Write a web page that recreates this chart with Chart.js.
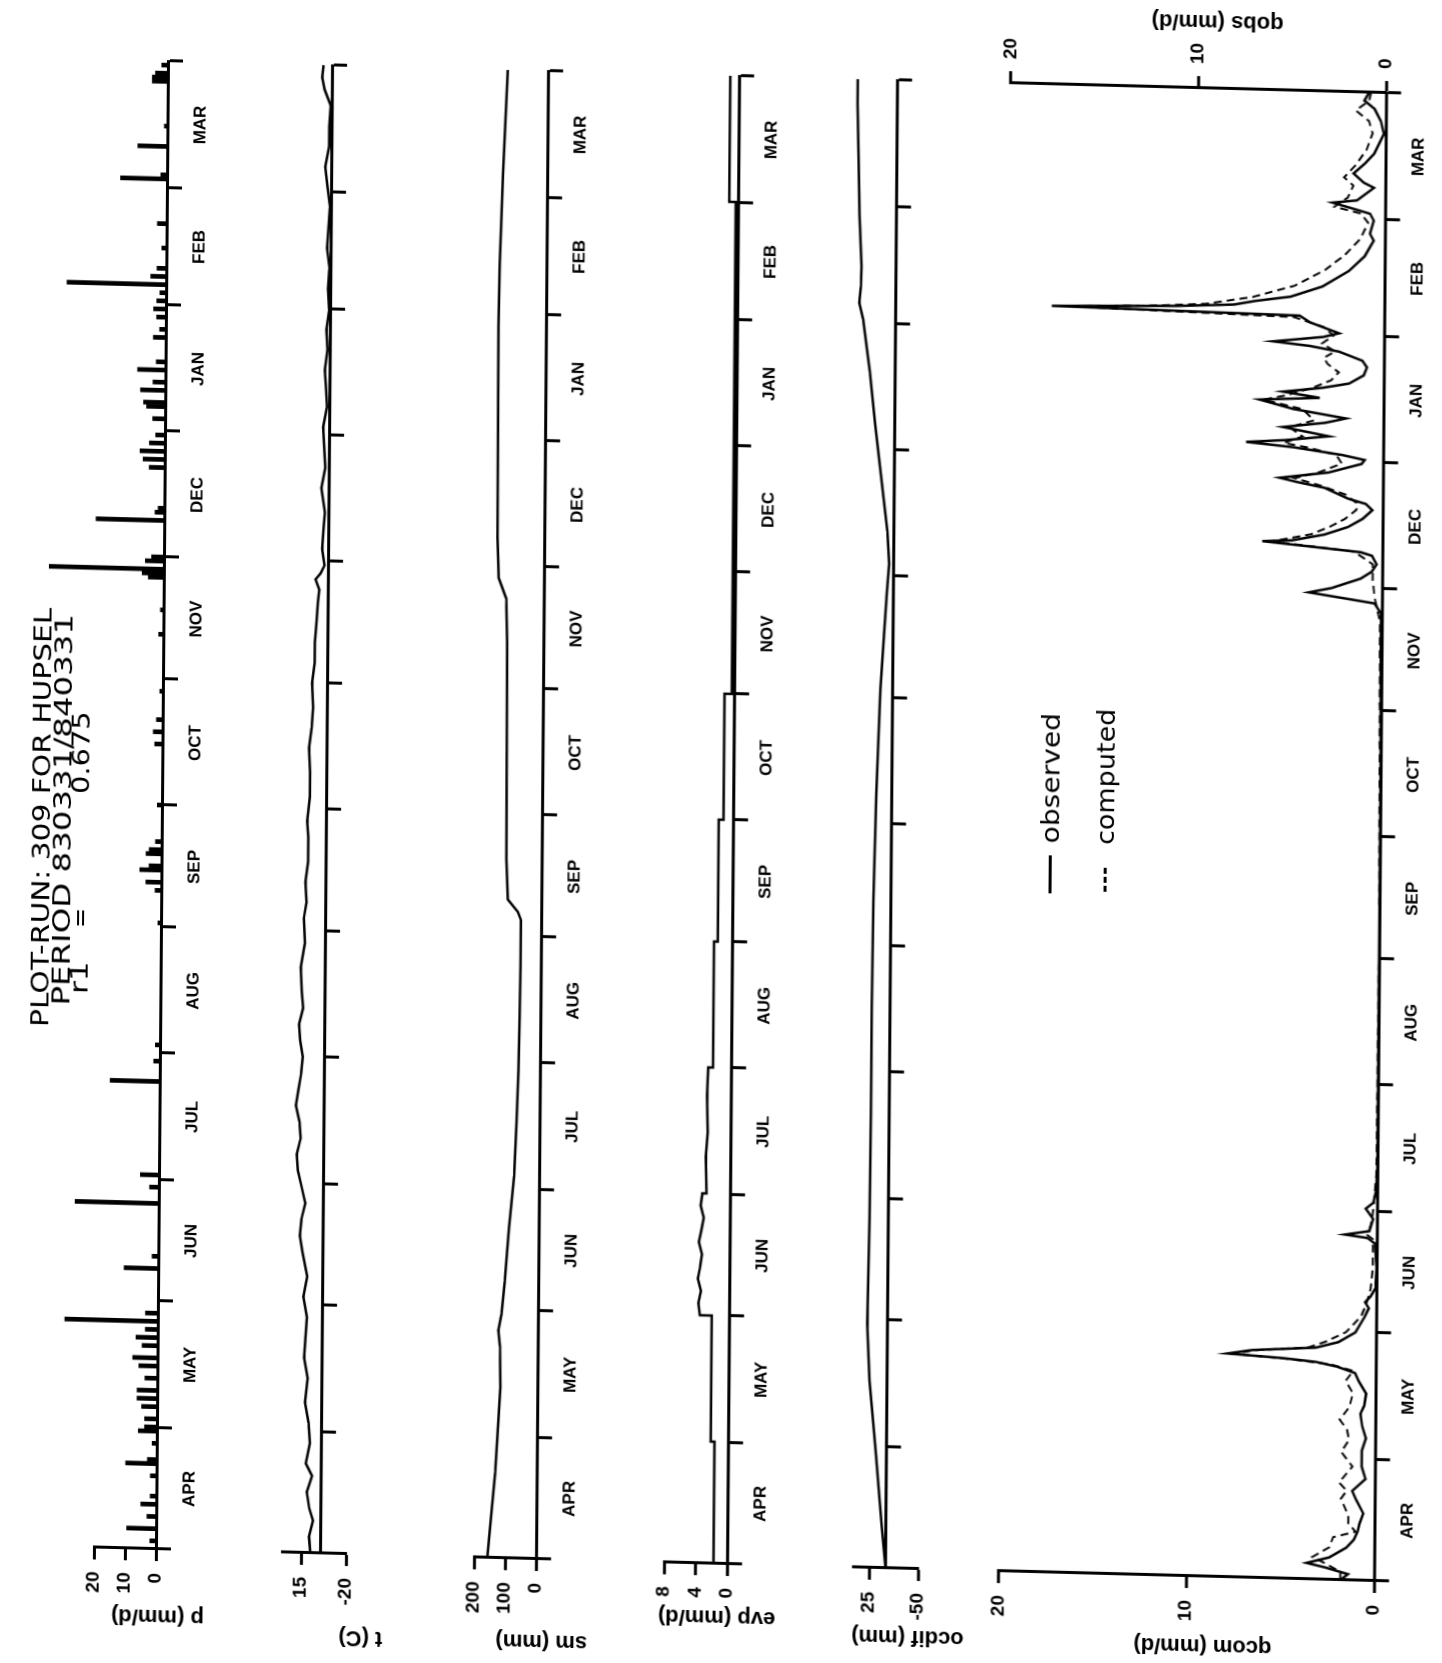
<!DOCTYPE html>
<html><head><meta charset="utf-8"><title>PLOT-RUN 309 FOR HUPSEL</title>
<script src="https://cdn.jsdelivr.net/npm/chart.js"></script>
<style>
html,body{margin:0;padding:0;background:#fff;}
body{width:1442px;height:1663px;overflow:hidden;position:relative;}
#land{position:absolute;left:0;top:0;width:1700px;height:1450px;transform-origin:0 0;transform:matrix(0.0081,-1,1,0.0262,-0.92,1659);}
.panel{position:absolute;left:0;}
.panel canvas{display:block;}
.txt{position:absolute;white-space:nowrap;color:#000;transform-origin:0 50%;}
.ytitle{position:absolute;white-space:nowrap;color:#000;line-height:1;font:bold 22px 'Liberation Sans',sans-serif;transform:translate(-50%,-50%) rotate(-90deg);}
.sym{position:absolute;background:#000;height:3px;}
</style></head><body><div id="land"></div>
<script>
// ---- data (day 0 = 1 April 1983, day 366 = 31 March 1984) ----
const MONTHS = ['APR','MAY','JUN','JUL','AUG','SEP','OCT','NOV','DEC','JAN','FEB','MAR'];
const MONTH_EDGES = [0,30,61,91,122,153,183,214,244,275,306,335,366];
const P_TICKS = [0,10,20];
const T_TICKS = [-20,15];
const SM_TICKS = [0,100,200];
const EVP_TICKS = [0,4,8];
const OC_TICKS = [-50,25];
const Q_TICKS = [0,10,20];

// precipitation p (mm/d): [day, value]
const precip = [[2,2],[5,9.5],[8,3],[11,5],[13,2],[18,2],[21,10],[22,3],[26,1.5],[29,6],[30,4],[32,4],[35,5],[37,6.5],[39,6.5],[42,4],[45,6],[47,8],[50,5],[52,7],[54,4],[56,30],[58,4],[69,11],[72,2],[85,27],[89,3],[92,6],[115,16],[120,2],[124,1.5],[154,1],[162,2],[164,5],[167,7],[168,4],[171,5],[172,4],[174,2],[183,1.5],[198,2.5],[201,3],[204,2],[211,1],[225,1.5],[231,1],[239,5],[240,7],[241,37],[243,6],[244,4],[253,22],[255,3],[256,2],[266,5],[268,7],[270,8],[272,5],[274,3],[278,4],[281,6],[282,7],[285,8],[287,4],[290,9],[292,3],[298,4],[300,2],[303,3],[305,4],[307,3],[309,2],[311,32],[313,5],[315,3],[320,1.5],[326,3],[337,15],[338,2],[345,9.5],[350,1],[361,5],[362,5],[363,4],[365,2]];
// temperature t (C)
const temperature = [[0,8],[4,9],[8,6],[11,9],[15,11],[19,7],[22,12],[27,9],[32,10],[37,13],[43,11],[48,14],[53,13],[58,12],[63,15],[68,12],[74,16],[78,18],[82,17],[86,14],[90,17],[94,20],[98,21],[102,18],[106,19],[110,22],[114,20],[118,18],[122,17],[126,19],[130,20],[134,17],[138,18],[144,19],[150,16],[156,17],[160,15],[165,16],[170,14],[176,14],[180,15],[186,13],[192,13],[198,14],[203,12],[208,11],[214,12],[219,10],[224,10],[229,9],[234,8],[237,7],[239.5,10],[241,6],[243,3],[247,5],[252,4],[256,3],[262,6],[267,3],[272,4],[277,5],[282,2],[287,3],[291,4],[296,2],[301,3],[306,1],[311,2],[316,1],[321,3],[326,2],[331,1],[336,3],[341,5],[346,2],[351,2],[356,1],[360,6],[363,8],[366,7]];
// soil moisture sm (mm)
const soilMoisture = [[0,157],[21,134],[42,119],[52,122],[56,127],[60,118],[68,108],[81,96],[94,81],[107,74],[120,69],[133,67],[146,65],[157,65],[159,75],[162,108],[172,114],[198,115],[225,117],[236,121],[241,146],[251,151],[303,153],[318,151],[340,143],[366,130]];
// evapotranspiration evp (mm/d)
const evaporation = [[0,1.7],[30,1.7],[30,2.2],[61,2.2],[61,3.7],[64,3.9],[67,3.6],[70,4.0],[73,3.7],[76,3.5],[79,3.9],[82,3.6],[85,3.3],[88,3.7],[91,3.5],[91,3.0],[100,3.1],[106,2.9],[115,3.0],[122,2.9],[122,2.3],[153,2.3],[153,1.8],[183,1.8],[183,1.2],[214,1.2],[214,0.3],[335,0.3],[335,1.1],[366,1.1]];
// ocdif (mm)
const ocdif = [[0,0],[10,6],[28,16],[46,27],[60,31],[86,29],[112,28],[138,28],[164,27],[190,24],[216,19],[240,10],[247,7],[255,10],[268,20],[281,30],[294,39],[307,50],[311,56],[315,54],[320,53],[333,57],[346,59],[360,61],[366,61]];
// discharge observed (qobs) and computed (qcom), mm/d
const qObserved = [[0,1.8],[1.5,1.4],[3,2.6],[4,3.6],[5.5,2.4],[8,1.5],[10,1.1],[12,0.9],[14,0.8],[16.5,0.6],[20,1.0],[22,1.2],[25,0.5],[28,0.7],[32,0.7],[35,0.5],[38,0.7],[41,0.8],[43,0.6],[46,0.5],[49,0.9],[51,1.1],[52.5,2.1],[53.5,3.2],[54.2,4.9],[55,7.9],[56,6.6],[57,3.2],[58.5,2.0],[61,1.1],[65,0.6],[67,0.4],[68.5,0.6],[70,0.3],[72,0.05],[77,0],[83,0.1],[84.3,0.5],[85,1.7],[86,0.4],[89,0.2],[91.5,0.6],[93,0.2],[96,0.05],[102,0],[150,0],[200,0],[238,0.05],[240.4,0.4],[242.7,3.9],[243.9,2.7],[246.4,1.15],[248.2,0.55],[250,0.3],[252.1,0.55],[252.9,1.15],[255,6.4],[255.4,4.8],[257,3.1],[259,1.85],[261.1,1.07],[263.3,0.55],[264.8,0.9],[266,1.85],[268.5,3.1],[269.7,4.5],[270.7,5.5],[272.3,2.9],[274.6,1.15],[275.6,0.98],[276.7,2.2],[278.3,4.8],[279.3,7.3],[280,5.2],[281.2,2.9],[283.2,5.35],[284.5,3.1],[285.7,2.0],[287.7,4.8],[289.8,6.6],[290.6,3.4],[291.9,5.35],[293.1,3.25],[294.3,1.85],[296.4,1.07],[298.4,0.9],[300,1.15],[302.1,2.4],[303.3,3.95],[304.2,5.9],[305.6,3.25],[306.6,2.4],[309.1,3.95],[310.7,4.5],[311.5,17.7],[312.3,11],[313,8.0],[314,6.9],[315.3,5.0],[318,3.3],[322,1.9],[325.7,1.07],[329.6,0.6],[331.3,0.8],[334.5,0.6],[336.2,0.8],[338.7,2.8],[339.4,1.5],[342.6,0.6],[343.8,1.15],[346,1.7],[348.5,1.1],[351,0.6],[355.9,0.1],[359,0.26],[362,0.6],[364,1.15],[366,0.9]];
const qComputed = [[0,1.8],[2,1.8],[4,2.6],[5.5,3.3],[8,2.4],[10.5,2.2],[12,1.0],[14,1.4],[16,1.4],[20,1.8],[22,1.5],[24,1.9],[28,1.2],[31.5,1.8],[34.5,1.4],[37,1.5],[39.5,1.9],[42.5,1.4],[46,1.2],[49,1.6],[51.5,1.2],[53,2.4],[54,4.6],[55,7.6],[56,6.4],[57,3.6],[58.5,2.7],[61,1.6],[65,0.8],[68.5,0.5],[72,0.3],[77,0.2],[84,0.2],[85,0.5],[88,0.3],[91.5,0.2],[100,0.05],[160,0],[236,0.1],[242,0.4],[246,0.5],[250,0.5],[253,1.5],[255,5.9],[257,3.8],[259,2.8],[261,2.0],[263.3,1.4],[265,1.4],[267,2.0],[269,3.3],[270.7,4.7],[272.3,3.4],[274.6,2.2],[276.7,2.5],[278.3,4.0],[279.3,5.3],[281,4.3],[283.2,5.0],[285,3.7],[287.7,4.3],[289.8,6.4],[291,5.2],[293,3.8],[295,2.8],[297,2.4],[299,3.0],[300.5,3.2],[302.1,2.6],[304,3.3],[306,2.7],[308,3.2],[310.3,4.8],[311.5,16.8],[312.3,12],[313,9.5],[315,7.0],[318,4.8],[322,3.2],[326,2.1],[330,1.3],[334,0.9],[336.2,1.3],[337.7,2.7],[340,2.0],[343,1.7],[345,2.2],[348,1.6],[352,1.0],[356,0.7],[359,0.9],[361.5,1.6],[364,0.9],[366,0.8]];

// ---- drawing ----
const land = document.getElementById('land');
Chart.defaults.font.family = "'Liberation Sans', sans-serif";
Chart.defaults.color = '#000';
const PLOT_W = 1663;
const AXW = 62;
const MID = MONTHS.map((m, i) => (MONTH_EDGES[i] + MONTH_EDGES[i + 1]) / 2);

function xScale(labels) {
  return {
    type: 'linear', min: 0, max: 366, position: { y: 0 }, offset: false,
    afterBuildTicks: ax => {
      const v = MONTH_EDGES.concat(labels ? MID : []).sort((a, b) => a - b);
      ax.ticks = v.map(value => ({ value }));
    },
    ticks: {
      autoSkip: false, maxRotation: 0, minRotation: 0, padding: 10, color: '#000',
      font: { family: "'Liberation Sans', sans-serif", weight: 'bold', size: 17 },
      callback: v => { const i = MID.indexOf(v); return (labels && i >= 0) ? MONTHS[i] : ''; }
    },
    grid: {
      drawOnChartArea: false, drawTicks: true, tickLength: 13, tickWidth: 3, offset: false,
      tickColor: c => (c.tick && MONTH_EDGES.includes(c.tick.value)) ? '#000' : 'rgba(0,0,0,0)'
    },
    border: { display: true, color: '#000', width: 3 }
  };
}
function yScale(min, max, ticks, position) {
  return {
    type: 'linear', min, max, position: position || 'left',
    afterBuildTicks: ax => { ax.ticks = ticks.map(value => ({ value })); },
    afterFit: ax => { ax.width = AXW; },
    ticks: { padding: 12, color: '#000', font: { family: "'Liberation Sans', sans-serif", weight: 'bold', size: 19 }, callback: v => String(v) },
    grid: { drawOnChartArea: false, drawTicks: true, tickLength: 12, tickWidth: 3, tickColor: '#000' },
    border: { display: true, color: '#000', width: 3 }
  };
}
const pts = arr => arr.map(([x, y]) => ({ x, y }));
function lineSet(arr, extra) {
  return Object.assign({ data: pts(arr), borderColor: '#000', borderWidth: 2.5, pointRadius: 0, fill: false, tension: 0, clip: false }, extra || {});
}
function panel(top, height, padTop, padBottom, type, datasets, scales, twoAxes) {
  const d = document.createElement('div');
  d.className = 'panel'; d.style.top = top + 'px'; d.style.width = PLOT_W + 'px'; d.style.height = height + 'px';
  const c = document.createElement('canvas');
  c.width = PLOT_W; c.height = height; c.style.width = PLOT_W + 'px'; c.style.height = height + 'px';
  d.appendChild(c); land.appendChild(d);
  return new Chart(c, {
    type, data: { datasets },
    options: {
      responsive: false, maintainAspectRatio: false, animation: false, devicePixelRatio: 1, events: [],
      layout: { padding: { left: 114 - AXW, right: twoAxes ? (PLOT_W - 1602 - AXW) : (PLOT_W - 1602), top: padTop, bottom: padBottom } },
      plugins: { legend: { display: false }, tooltip: { enabled: false }, title: { display: false } },
      scales
    }
  });
}

panel(0, 215, 94, 59, 'bar',
  [{ data: pts(precip), backgroundColor: '#000', borderWidth: 0, barThickness: 4, clip: false }],
  { x: xScale(true), y: yScale(0, 20, P_TICKS) });
panel(220, 190, 62, 64, 'line', [lineSet(temperature)], { x: xScale(false), y: yScale(-20, 30, T_TICKS) });
panel(415, 180, 59, 59, 'line', [lineSet(soilMoisture)], { x: xScale(true), y: yScale(0, 200, SM_TICKS) });
panel(600, 185, 64, 58, 'line', [lineSet(evaporation)], { x: xScale(true), y: yScale(0, 8, EVP_TICKS) });
panel(790, 180, 63, 52, 'line', [lineSet(ocdif)], { x: xScale(false), y: yScale(-50, 50, OC_TICKS) });
panel(975, 465, 18, 66, 'line',
  [lineSet(qObserved), lineSet(qComputed, { borderWidth: 2, borderDash: [8, 5] })],
  { x: xScale(true), y: yScale(0, 20, Q_TICKS, 'left'), y2: yScale(0, 20, Q_TICKS, 'right') }, true);

// ---- texts ----
function addText(str, left, baseline, family, size, target, fixedScale) {
  const el = document.createElement('div');
  el.className = 'txt'; el.textContent = str;
  el.style.font = size + 'px ' + family; el.style.lineHeight = '1';
  el.style.left = left + 'px'; el.style.top = (baseline - 0.846 * size) + 'px';
  land.appendChild(el);
  let s = fixedScale || 1;
  if (target) s = target / el.offsetWidth;
  el.style.transform = 'scaleX(' + s + ')';
  return el;
}
function yTitle(str, cx, cy) {
  const el = document.createElement('div');
  el.className = 'ytitle'; el.textContent = str;
  el.style.left = cx + 'px'; el.style.top = cy + 'px';
  land.appendChild(el);
}
function sym(left, width, cy) {
  const el = document.createElement('div');
  el.className = 'sym'; el.style.left = left + 'px'; el.style.width = width + 'px'; el.style.top = (cy - 1.5) + 'px';
  land.appendChild(el);
}
const TF = "'DejaVu Sans', sans-serif";
addText('PLOT-RUN: 309 FOR HUPSEL', 633, 44, TF, 24, 419);
addText('PERIOD 830331/840331', 655, 65, TF, 24, 392);
addText('r1', 667, 83, TF, 24, null, 1.3);
addText('=', 733, 83, TF, 24, null, 1.0);
addText('0.675', 867, 83, TF, 24, 83);

addText('observed', 843, 1053.6, TF, 24, 130);
addText('computed', 843, 1108.6, TF, 24, 136);
sym(793, 38, 1044.7);
sym(796, 6, 1099); sym(805, 6, 1099); sym(814, 6, 1099);

yTitle('p (mm/d)', 46, 157.5);
yTitle('t (C)', 30.4, 360.7);
yTitle('sm (mm)', 31.2, 541.5);
yTitle('evp (mm/d)', 59.8, 717.4);
yTitle('ocdif (mm)', 44.8, 907.5);
yTitle('qcom (mm/d)', 43.5, 1202.5);
yTitle('qobs (mm/d)', 1668, 1205.4);
</script></body></html>
